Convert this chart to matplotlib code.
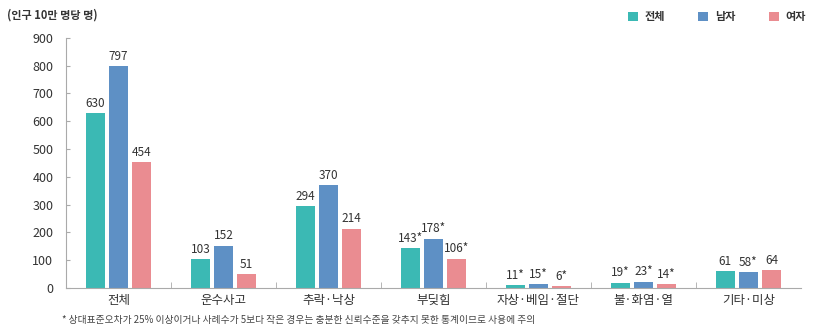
import matplotlib
matplotlib.use('Agg')
import matplotlib.pyplot as plt
import numpy as np

plt.rcParams['font.family'] = ['Noto Sans CJK KR', 'DejaVu Sans']

# 데이터
categories = ['전체', '운수사고', '추락·낙상', '부딪힘', '자상·베임·절단', '불·화염·열', '기타·미상']
series_names = ['전체', '남자', '여자']
total = [630, 103, 294, 143, 11, 19, 61]
male = [797, 152, 370, 178, 15, 23, 58]
female = [454, 51, 214, 106, 6, 14, 64]
total_lbl = ['630', '103', '294', '143*', '11*', '19*', '61']
male_lbl = ['797', '152', '370', '178*', '15*', '23*', '58*']
female_lbl = ['454', '51', '214', '106*', '6*', '14*', '64']
yticks = [0, 100, 200, 300, 400, 500, 600, 700, 800, 900]

colors = ['#3bb9b4', '#5e90c5', '#ea8c91']

fig = plt.figure(figsize=(8.24, 3.35), dpi=100)
ax = fig.add_axes([0.080, 0.140, 0.892, 0.747])

x = np.arange(len(categories))
w = 0.18
step = 0.22
data = [total, male, female]
labels = [total_lbl, male_lbl, female_lbl]
for i, (vals, lbls) in enumerate(zip(data, labels)):
    pos = x + (i - 1) * step
    bars = ax.bar(pos, vals, width=w, color=colors[i], label=series_names[i])
    for b, t in zip(bars, lbls):
        ax.text(b.get_x() + b.get_width() / 2, b.get_height() + 12, t,
                ha='center', va='bottom', fontsize=8.5, color='#333333')

ax.set_xlim(-0.5, len(categories) - 0.5)
ax.set_ylim(0, 900)
ax.set_yticks(yticks)
ax.set_xticks(x)
ax.set_xticklabels(categories, fontsize=9, color='#333333')
ax.set_xticks(np.arange(len(categories) - 1) + 0.5, minor=True)
ax.tick_params(axis='x', which='major', length=0, pad=4)
ax.tick_params(axis='x', which='minor', length=4, color='#aaaaaa', direction='in')
ax.tick_params(axis='y', length=3, direction='in', color='#aaaaaa',
               labelsize=9, labelcolor='#333333', pad=9)
for s in ['top', 'right']:
    ax.spines[s].set_visible(False)
ax.spines['left'].set_color('#aaaaaa')
ax.spines['bottom'].set_color('#aaaaaa')

fig.text(0.008, 0.955, '(인구 10만 명당 명)', fontsize=8, fontweight='bold',
         color='#333333', ha='left', va='center')
fig.text(0.075, 0.045, '* 상대표준오차가 25% 이상이거나 사례수가 5보다 작은 경우는 충분한 신뢰수준을 갖추지 못한 통계이므로 사용에 주의',
         fontsize=7, color='#444444', ha='left', va='center')

leg = fig.legend(loc='upper right', bbox_to_anchor=(0.99, 1.0), ncol=3, frameon=False,
                 fontsize=8, handlelength=0.9, handleheight=0.9, columnspacing=3.0,
                 handletextpad=0.6)
for t in leg.get_texts():
    t.set_fontweight('bold')
    t.set_color('#333333')

fig.savefig('out.png', dpi=100)
